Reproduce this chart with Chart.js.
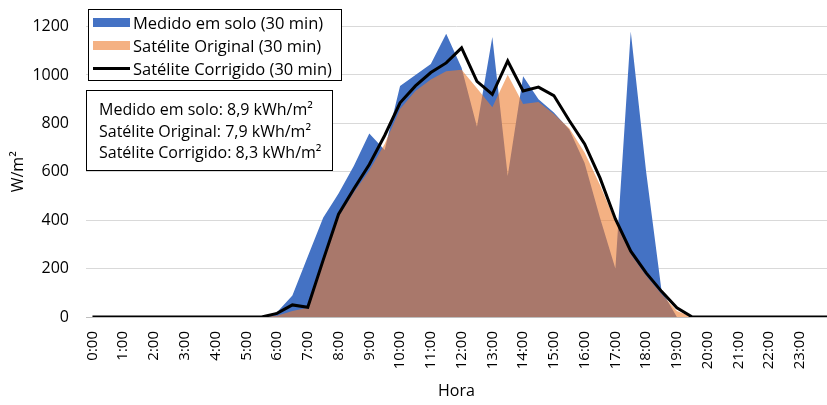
<!DOCTYPE html>
<html>
<head>
<meta charset="utf-8">
<script src="https://cdn.jsdelivr.net/npm/chart.js@4"></script>
<style>
  body { margin: 0; background: #fff; }
  #wrap { position: relative; width: 827px; height: 405px; font-family: 'Open Sans', sans-serif; }
  #legenda { position: absolute; left: 88px; top: 9px; width: 254px; height: 72px; border: 1.5px solid #000; background: #fff; box-sizing: border-box; }
  .item { position: absolute; left: 4px; height: 23px; display: flex; align-items: center; font-size: 16.5px; color: #000; white-space: nowrap; }
  .sw { width: 37px; margin-right: 3px; }
  #caixa { position: absolute; left: 86px; top: 90px; width: 247px; height: 81px; border: 1.5px solid #000; background: #fff; box-sizing: border-box; padding: 8px 0 0 12px; font-size: 16px; line-height: 21.5px; color: #000; white-space: nowrap; }
</style>
</head>
<body>
<div id="wrap">
  <canvas id="grafico" width="827" height="405"></canvas>
  <div id="legenda"></div>
  <div id="caixa">
    Medido em solo: 8,9 kWh/m²<br>
    Satélite Original: 7,9 kWh/m²<br>
    Satélite Corrigido: 8,3 kWh/m²
  </div>
</div>
<script>
// horario em horas decimais, de meia em meia hora (0:00 ... 24:00)
const horas = []
for (let i = 0; i <= 48; i++) {
    horas.push(i / 2)
}
// rotulos do eixo x, uma vez por hora
const rotulos = ['0:00', '1:00', '2:00', '3:00', '4:00', '5:00', '6:00', '7:00', '8:00', '9:00', '10:00', '11:00',
    '12:00', '13:00', '14:00', '15:00', '16:00', '17:00', '18:00', '19:00', '20:00', '21:00', '22:00', '23:00']

// W/m2
const medido = [
    0, 0, 0, 0, 0, 0, 0, 0, 0, 0, 0, 0,
    20, 89, 250, 410, 510, 625, 758, 690, 955, 1000, 1045, 1170,
    1030, 786, 1157, 583, 995, 900, 845, 775, 636, 410, 200, 1180,
    600, 110, 0, 0, 0, 0, 0, 0, 0, 0, 0, 0, 0
]
const original = [
    0, 0, 0, 0, 0, 0, 0, 0, 0, 0, 0, 0,
    5, 25, 38, 225, 415, 515, 605, 715, 860, 934, 981, 1015,
    1022, 945, 867, 1001, 880, 888, 839, 780, 680, 545, 395, 260,
    170, 95, 25, 0, 0, 0, 0, 0, 0, 0, 0, 0, 0
]
const corrigido = [
    0, 0, 0, 0, 0, 0, 0, 0, 0, 0, 0, 0,
    15, 50, 40, 235, 425, 530, 630, 750, 885, 955, 1010, 1050,
    1112, 974, 920, 1058, 934, 950, 915, 812, 715, 575, 405, 272,
    182, 106, 38, 0, 0, 0, 0, 0, 0, 0, 0, 0, 0
]

const nomes = ['Medido em solo (30 min)', 'Satélite Original (30 min)', 'Satélite Corrigido (30 min)']
const yTicks = [0, 200, 400, 600, 800, 1000, 1200]

const fonte = "'Open Sans', sans-serif"
const pontos = serie => serie.map((v, i) => ({ x: horas[i], y: v }))

const ctx = document.getElementById('grafico')

const chart = new Chart(ctx, {
    type: 'line',
    data: {
        datasets: [{
            label: nomes[2],
            data: pontos(corrigido),
            borderColor: '#000',
            borderWidth: 3,
            pointRadius: 0,
            fill: false,
            order: 0
        }, {
            label: nomes[1],
            data: pontos(original),
            borderWidth: 0,
            pointRadius: 0,
            backgroundColor: 'rgba(237,125,49,0.6)',
            fill: 'origin',
            order: 1
        }, {
            label: nomes[0],
            data: pontos(medido),
            borderWidth: 0,
            pointRadius: 0,
            backgroundColor: '#4472C4',
            fill: 'origin',
            order: 2
        }]
    },
    options: {
        responsive: false,
        animation: false,
        layout: { padding: { top: 21, right: 0, left: 0, bottom: 0 } },
        plugins: {
            legend: { display: false },
            tooltip: { enabled: false }
        },
        scales: {
            x: {
                type: 'linear',
                min: -0.21,
                max: 23.88,
                afterBuildTicks: function (s) { s.ticks = rotulos.map((r, h) => ({ value: h })) },
                grid: { display: false },
                border: { color: '#bfbfbf' },
                ticks: {
                    autoSkip: false,
                    maxRotation: 90,
                    minRotation: 90,
                    padding: 6,
                    color: '#000',
                    font: { family: fonte, size: 15 },
                    callback: function (v) { return rotulos[v] }
                },
                title: { display: true, text: 'Hora', color: '#000', font: { family: fonte, size: 16 }, padding: { top: 0, bottom: 4 } },
                afterFit: function (s) {
                    s.height = 88
                    s.paddingLeft = 0
                    s.paddingRight = 0
                }
            },
            y: {
                min: 0,
                max: 1200,
                afterBuildTicks: function (s) { s.ticks = yTicks.map(v => ({ value: v })) },
                grid: { color: '#d9d9d9', drawTicks: false },
                border: { display: false },
                ticks: {
                    padding: 17,
                    color: '#000',
                    font: { family: fonte, size: 16 },
                    callback: function (v) { return String(v) }
                },
                title: { display: true, text: 'W/m²', color: '#000', font: { family: fonte, size: 16 }, padding: { top: 9, bottom: 0 } },
                afterFit: function (s) { s.width = 86 }
            }
        }
    }
})

// legenda no estilo do Excel, dentro da area do grafico
const legenda = document.getElementById('legenda')
const ordem = [2, 1, 0]
ordem.forEach((idx, row) => {
    const ds = chart.data.datasets[idx]
    const item = document.createElement('div')
    item.className = 'item'
    item.style.top = (1 + row * 23) + 'px'
    const sw = document.createElement('span')
    sw.className = 'sw'
    if (ds.fill === false) {
        sw.style.height = '3px'
        sw.style.background = ds.borderColor
    } else {
        sw.style.height = '9px'
        sw.style.background = idx === 1 ? '#F4B183' : ds.backgroundColor
    }
    item.appendChild(sw)
    item.appendChild(document.createTextNode(ds.label))
    legenda.appendChild(item)
})
</script>
</body>
</html>
